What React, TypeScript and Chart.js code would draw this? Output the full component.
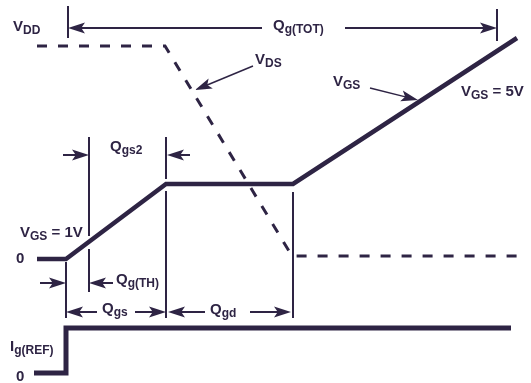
import { useEffect, useRef } from "react";
import { Chart, registerables } from "chart.js";

Chart.register(...registerables);

const INK = "#2e2444";

// Diagram coordinates: q = gate-charge axis (left → right), v = level axis (top → down)
const vgsQ = [37, 66, 166, 293, 517];
const vgsV = [259, 259, 184, 184, 38];
const vdsQ = [37, 165, 292, 518];
const vdsV = [46, 46, 256, 256];
const igQ = [34, 66, 66, 511];
const igV = [373, 373, 328, 328];

const markerQ = [68, 497, 89, 89, 166, 166, 66, 293];
const markerTop = [6, 9, 137, 249, 137, 191, 262, 192];
const markerBottom = [38, 41, 236, 292, 179, 318, 318, 318];

const arrowFromQ = [262, 345, 253, 370, 63, 190, 40, 113, 97, 135, 205, 250];
const arrowFromV = [28, 28, 66, 88, 155, 155, 283, 283, 312, 312, 312, 312];
const arrowToQ = [68, 497, 195, 418, 89, 167, 66, 89, 66, 166, 168, 291];
const arrowToV = [28, 28, 90, 100, 155, 155, 283, 283, 312, 312, 312, 312];
const arrowShaft = [2, 2, 1.5, 1.5, 2, 2, 2, 2, 2, 2, 2, 2];

const labelMain = ["V", "Q", "V", "V", "Q", "V", "V", "0", "Q", "Q", "Q", "I", "0"];
const labelSub = ["DD", "g(TOT)", "DS", "GS", "gs2", "GS", "GS", "", "g(TH)", "gs", "gd", "g(REF)", ""];
const labelTail = ["", "", "", "", "", " = 5V", " = 1V", "", "", "", "", "", ""];
const labelQ = [13, 273, 255, 333, 110, 461, 20, 16, 116, 102, 210, 10, 16];
const labelV = [31, 30, 64, 86, 151, 96, 237, 263, 284, 313, 314, 351, 381];

const FONT_MAIN = "bold 15px 'Liberation Sans', Arial, sans-serif";
const FONT_SUB = "bold 12px 'Liberation Sans', Arial, sans-serif";

const pts = (qs: number[], vs: number[]) => qs.map((q, i) => ({ x: q, y: vs[i] }));

const overlay = {
  id: "overlay",
  afterDatasetsDraw(chart: any) {
    const { ctx } = chart;
    const xs = chart.scales.x;
    const ys = chart.scales.y;
    ctx.save();
    ctx.strokeStyle = INK;
    ctx.fillStyle = INK;
    ctx.lineCap = "butt";
    for (let i = 0; i < arrowFromQ.length; i++) {
      const x0 = xs.getPixelForValue(arrowFromQ[i]);
      const y0 = ys.getPixelForValue(arrowFromV[i]);
      const x1 = xs.getPixelForValue(arrowToQ[i]);
      const y1 = ys.getPixelForValue(arrowToV[i]);
      const a = Math.atan2(y1 - y0, x1 - x0);
      const c = Math.cos(a);
      const s = Math.sin(a);
      const L = 17;
      const W = 5.5;
      ctx.lineWidth = arrowShaft[i];
      ctx.beginPath();
      ctx.moveTo(x0, y0);
      ctx.lineTo(x1 - L * 0.7 * c, y1 - L * 0.7 * s);
      ctx.stroke();
      const bx = x1 - L * c;
      const by = y1 - L * s;
      ctx.beginPath();
      ctx.moveTo(x1, y1);
      ctx.lineTo(bx + W * s, by - W * c);
      ctx.lineTo(x1 - L * 0.78 * c, y1 - L * 0.78 * s);
      ctx.lineTo(bx - W * s, by + W * c);
      ctx.closePath();
      ctx.fill();
    }
    ctx.textBaseline = "alphabetic";
    ctx.textAlign = "left";
    for (let i = 0; i < labelMain.length; i++) {
      let px = xs.getPixelForValue(labelQ[i]);
      const py = ys.getPixelForValue(labelV[i]);
      ctx.font = FONT_MAIN;
      ctx.fillText(labelMain[i], px, py);
      px += ctx.measureText(labelMain[i]).width;
      if (labelSub[i]) {
        ctx.font = FONT_SUB;
        ctx.fillText(labelSub[i], px, py + 3);
        px += ctx.measureText(labelSub[i]).width;
      }
      if (labelTail[i]) {
        ctx.font = FONT_MAIN;
        ctx.fillText(labelTail[i], px, py);
      }
    }
    ctx.restore();
  },
};

export default function App() {
  const ref = useRef<HTMLCanvasElement | null>(null);
  useEffect(() => {
    if (!ref.current) return;
    const markerSets = markerQ.map((q, i) => ({
      data: [
        { x: q, y: markerTop[i] },
        { x: q, y: markerBottom[i] },
      ],
      showLine: true,
      pointRadius: 0,
      borderColor: INK,
      borderWidth: 2,
      borderCapStyle: "butt",
    }));
    const chart = new Chart(ref.current, {
      type: "scatter",
      data: {
        datasets: [
          {
            data: pts(vdsQ, vdsV),
            showLine: true,
            pointRadius: 0,
            borderColor: INK,
            borderWidth: 3,
            borderDash: [10, 11],
            borderCapStyle: "butt",
            borderJoinStyle: "miter",
          },
          ...markerSets,
          {
            data: pts(vgsQ, vgsV),
            showLine: true,
            pointRadius: 0,
            borderColor: INK,
            borderWidth: 4.5,
            borderCapStyle: "butt",
            borderJoinStyle: "miter",
          },
          {
            data: pts(igQ, igV),
            showLine: true,
            pointRadius: 0,
            borderColor: INK,
            borderWidth: 5,
            borderCapStyle: "butt",
            borderJoinStyle: "miter",
          },
        ] as any,
      },
      options: {
        responsive: false,
        maintainAspectRatio: false,
        animation: false,
        layout: { padding: 0 },
        plugins: { legend: { display: false }, tooltip: { enabled: false } },
        scales: {
          x: { type: "linear", min: 0, max: 531, display: false },
          y: { type: "linear", min: 0, max: 383, reverse: true, display: false },
        },
      },
      plugins: [overlay],
    });
    return () => chart.destroy();
  }, []);
  return (
    <div style={{ position: "fixed", left: 0, top: 0, width: 531, height: 383, background: "#fff" }}>
      <canvas ref={ref} width={531} height={383} />
    </div>
  );
}
